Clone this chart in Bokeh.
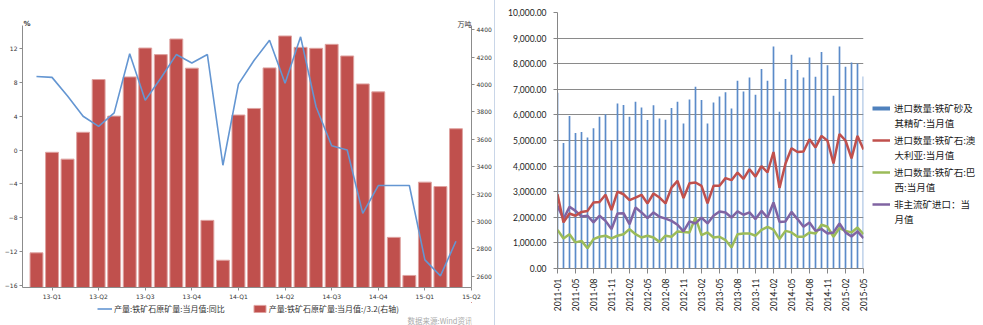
import numpy as np
from bokeh.plotting import figure
from bokeh.models import (Range1d, LinearAxis, FixedTicker, Legend, LegendItem,
                          Label, NumeralTickFormatter, Div)
from bokeh.layouts import row, column
from bokeh.embed import file_html
from bokeh.resources import INLINE

# ---------------- Left chart data ----------------
left_month_index = list(range(1, 29))          # 2013-02 ... 2015-05
left_quarter_ticks = [2, 5, 8, 11, 14, 17, 20, 23, 26, 29]
left_quarter_labels = ["13-Q1", "13-Q2", "13-Q3", "13-Q4", "14-Q1",
                       "14-Q2", "14-Q3", "14-Q4", "15-Q1", "15-Q2"]
ore_output_yoy = [8.7, 8.6, 6.4, 4.0, 2.8, 4.4, 11.4, 5.9, 8.5, 11.3, 10.3, 11.3,
                  -1.8, 7.8, 10.6, 13.0, 7.9, 13.4, 5.1, 0.5, 0.0, -7.5, -4.2,
                  -4.2, -4.2, -13.0, -14.9, -10.8]
ore_output_scaled = [2771, 3505, 3455, 3651, 4036, 3769, 4055, 4266, 4218, 4332,
                     4119, 3008, 2717, 3777, 3825, 4121, 4354, 4271, 4264, 4293,
                     4208, 4004, 3946, 2884, 2606, 3287, 3255, 3677]
left_pct_ticks = [-16, -12, -8, -4, 0, 4, 8, 12]
right_ton_ticks = [2600, 2800, 3000, 3200, 3400, 3600, 3800, 4000, 4200, 4400]
LEFT_PCT_AXIS = (-16.27, 14.75)
RIGHT_TON_AXIS = (2518, 4431)
LEFT_PCT_VIEW = (-16.27, 17.70)
RIGHT_TON_VIEW = (2518, 4613)

# ---------------- Right chart data ----------------
import_index = list(range(52))
import_tick_pos = list(range(0, 52, 3))
import_tick_labels = ["2011-01", "2011-05", "2011-08", "2011-11", "2012-02", "2012-05",
                      "2012-08", "2012-11", "2013-02", "2013-05", "2013-08", "2013-11",
                      "2014-02", "2014-05", "2014-08", "2014-11", "2015-02", "2015-05"]
import_total = [6870, 4900, 5960, 5290, 5330, 5120, 5480, 5930, 6030, 5000, 6450, 6390,
                5930, 6510, 6290, 5800, 6380, 5860, 5810, 6270, 6510, 5660, 6600, 7100,
                6580, 5660, 6480, 6720, 6880, 6250, 7330, 6910, 7460, 6790, 7790, 7330,
                8670, 6120, 7400, 8350, 7750, 7460, 8240, 7490, 8460, 7940, 6750, 8670,
                7880, 8050, 8010, 7500]
import_australia = [2900, 1800, 2150, 2060, 2210, 2250, 2580, 2600, 2880, 2280, 3000, 2900,
                    2670, 2770, 2880, 2540, 2930, 2770, 2540, 3160, 3420, 2750, 3330, 3360,
                    3230, 2550, 3230, 3230, 3530, 3450, 3750, 3500, 3880, 3590, 4000, 3750,
                    4550, 3150, 4100, 4700, 4550, 4570, 5050, 4730, 5180, 4990, 4100, 5250,
                    5000, 4300, 5180, 4650]
import_brazil = [1510, 1170, 1340, 1020, 1080, 790, 1150, 1240, 1280, 1180, 1280, 1340,
                 1540, 1340, 1210, 1280, 1210, 1040, 1280, 1240, 1450, 1430, 1410, 1990,
                 1300, 1410, 1210, 1240, 1110, 820, 1340, 1370, 1370, 1280, 1510, 1630,
                 1520, 1150, 1470, 1410, 1240, 1240, 1410, 1370, 1710, 1630, 1240, 1580,
                 1470, 1410, 1600, 1340]
import_other = [2450, 1930, 2410, 2250, 2030, 2060, 1800, 2060, 1860, 1540, 2150, 2160,
                1730, 2380, 2190, 1970, 2190, 2020, 1950, 1860, 1710, 1450, 1840, 1760,
                1990, 1760, 2060, 2230, 2190, 1990, 2230, 2100, 2190, 1930, 2250, 1990,
                2580, 1820, 1840, 2210, 1930, 1630, 1800, 1470, 1540, 1370, 1410, 1760,
                1410, 1250, 1450, 1180]
import_y_ticks = list(range(0, 10001, 1000))
legend_first_lines = ["进口数量:铁矿砂及", "进口数量:铁矿石:澳", "进口数量:铁矿石:巴",
                      "非主流矿进口：当"]
legend_second_lines = ["其精矿:当月值", "大利亚:当月值", "西:当月值", "月值"]

CJK = "Noto Sans CJK SC"
RED = "#C0504D"
BAR_EDGE = "#DFA3A1"
BLUE_LINE = "#6496D2"
GREEN = "#9BBB59"
PURPLE = "#8064A2"
BAR_BLUE = "#4F81BD"
OFFSCREEN = (-100, -99)   # view range for legend-only figures (nothing drawn in view)

# ================= Left figure (plot area) =================
p1 = figure(width=494, height=302, output_backend="svg", toolbar_location=None,
            title=None, x_range=Range1d(0.1, 29), y_range=Range1d(*LEFT_PCT_VIEW),
            min_border_left=22, min_border_right=22, min_border_top=0,
            min_border_bottom=14)
p1.extra_y_ranges = {"ton": Range1d(*RIGHT_TON_VIEW)}
p1.grid.visible = False
p1.outline_line_color = None

p1.vbar(x=left_month_index, top=ore_output_scaled, bottom=RIGHT_TON_AXIS[0],
        width=0.83, y_range_name="ton", fill_color=RED, line_color=BAR_EDGE, line_width=1)
p1.line(x=left_month_index, y=ore_output_yoy, line_color=BLUE_LINE, line_width=1.6)

def style_small_axis(ax):
    ax.axis_line_color = "#8C8C8C"
    ax.major_tick_line_color = "#8C8C8C"
    ax.major_tick_out = 3
    ax.major_tick_in = 0
    ax.minor_tick_line_color = None
    ax.major_label_text_font = "DejaVu Sans"
    ax.major_label_text_font_size = "6px"
    ax.major_label_text_color = "#333333"
    ax.major_label_standoff = 2

xax1 = p1.xaxis[0]
xax1.ticker = FixedTicker(ticks=left_quarter_ticks)
xax1.major_label_overrides = {t: l for t, l in zip(left_quarter_ticks, left_quarter_labels)}
style_small_axis(xax1)
yax1 = p1.yaxis[0]
yax1.ticker = FixedTicker(ticks=left_pct_ticks)
yax1.bounds = LEFT_PCT_AXIS
style_small_axis(yax1)
rax1 = LinearAxis(y_range_name="ton", ticker=FixedTicker(ticks=right_ton_ticks),
                  bounds=RIGHT_TON_AXIS)
style_small_axis(rax1)
p1.add_layout(rax1, "right")

p1.add_layout(Label(x=1, y=264, x_units="screen", y_units="screen", text="%",
                    text_font="DejaVu Sans", text_font_size="7px", text_font_style="bold",
                    text_color="#333333", text_baseline="middle"))
p1.add_layout(Label(x=449, y=264, x_units="screen", y_units="screen", text="万吨",
                    text_font=CJK, text_font_size="7px", text_color="#333333",
                    text_align="right", text_baseline="middle"))

# ================= Left legend strip (frame aligned with p1's frame: x 22..472) ===
p1b = figure(width=494, height=23, output_backend="svg", toolbar_location=None,
             title=None, x_axis_type=None, y_axis_type=None,
             x_range=Range1d(*OFFSCREEN), y_range=Range1d(*OFFSCREEN),
             min_border=0, outline_line_color=None)
key_line1 = p1b.line(x=left_month_index, y=ore_output_yoy, line_color=BLUE_LINE,
                     line_width=1.6)
key_bar1 = p1b.vbar(x=left_month_index, top=ore_output_scaled, width=0.83,
                    fill_color=RED, line_color=BAR_EDGE, line_width=1)
leg1 = Legend(items=[LegendItem(label="产量:铁矿石原矿量:当月值:同比", renderers=[key_line1]),
                     LegendItem(label="产量:铁矿石原矿量:当月值:/3.2(右轴)", renderers=[key_bar1])],
              orientation="horizontal", location=(75, 11), padding=0, margin=0,
              spacing=27, glyph_width=15, glyph_height=9, label_standoff=2,
              label_height=10, label_text_font=CJK, label_text_font_size="8px",
              label_text_color="#333333", border_line_color=None,
              background_fill_alpha=0)
p1b.add_layout(leg1)
p1b.add_layout(Label(x=450, y=5, x_units="screen", y_units="screen",
                     text="数据来源:Wind资讯", text_font=CJK, text_font_size="7.5px",
                     text_color="#AAAAAA", text_align="right", text_baseline="middle"))

# separator (left border of the right chart area)
sep = Div(width=1, height=325, margin=0, styles={"background-color": "#C9D6E8"})

# ================= Right figure =================
p2 = figure(width=373, height=325, output_backend="svg", toolbar_location=None,
            title=None, x_range=Range1d(0, 51), y_range=Range1d(0, 10000),
            min_border_left=62, min_border_right=5, min_border_top=12,
            min_border_bottom=57)
p2.outline_line_color = None
p2.xgrid.visible = False
p2.ygrid.grid_line_color = "#8A8A8A"
p2.ygrid.ticker = FixedTicker(ticks=import_y_ticks)

p2.vbar(x=import_index, top=import_total, width=0.28, fill_color="#5B8BC9",
        line_color=None)
p2.line(x=import_index, y=import_brazil, line_color=GREEN, line_width=2.5)
p2.line(x=import_index, y=import_other, line_color=PURPLE, line_width=2.5)
p2.line(x=import_index, y=import_australia, line_color=RED, line_width=2.5)

yax2 = p2.yaxis[0]
yax2.ticker = FixedTicker(ticks=import_y_ticks)
yax2.formatter = NumeralTickFormatter(format="0,0.00")
xax2 = p2.xaxis[0]
xax2.ticker = FixedTicker(ticks=import_tick_pos)
xax2.major_label_overrides = {t: l for t, l in zip(import_tick_pos, import_tick_labels)}
xax2.major_label_orientation = np.pi / 2
for ax in (xax2, yax2):
    ax.axis_line_color = "#868686"
    ax.major_tick_line_color = "#868686"
    ax.major_tick_in = 0
    ax.minor_tick_line_color = None
    ax.major_label_text_font = "Lato"
    ax.major_label_text_font_size = "8.5px"
    ax.major_label_text_color = "#222222"
yax2.major_tick_out = 4
yax2.major_label_standoff = 7
xax2.major_tick_out = 5
xax2.major_label_standoff = 5

# ================= Right legend (frame aligned with p2's frame: y 12..268) =====
p3 = figure(width=115, height=325, output_backend="svg", toolbar_location=None,
            title=None, x_axis_type=None, y_axis_type=None,
            x_range=Range1d(*OFFSCREEN), y_range=Range1d(*OFFSCREEN),
            min_border=0, outline_line_color=None)
k_bar = p3.line(x=import_index, y=import_total, line_color=BAR_BLUE, line_width=4)
k_au = p3.line(x=import_index, y=import_australia, line_color=RED, line_width=2.5)
k_br = p3.line(x=import_index, y=import_brazil, line_color=GREEN, line_width=2.5)
k_ot = p3.line(x=import_index, y=import_other, line_color=PURPLE, line_width=2.5)
leg2 = Legend(items=[LegendItem(label=t, renderers=[r]) for t, r in
                     zip(legend_first_lines, [k_bar, k_au, k_br, k_ot])],
              location=(4, 57), padding=0, margin=0, spacing=18,
              glyph_width=18, glyph_height=14, label_standoff=4, label_height=14,
              label_text_font=CJK, label_text_font_size="9.5px",
              label_text_color="#1A1A1A",
              border_line_color=None, background_fill_alpha=0)
p3.add_layout(leg2)
for i, t in enumerate(legend_second_lines):
    p3.add_layout(Label(x=26, y=146 - 32 * i, x_units="screen", y_units="screen",
                        text=t, text_font=CJK, text_font_size="9.5px",
                        text_color="#1A1A1A", text_baseline="middle"))

layout = row(column(p1, p1b, spacing=0), sep, p2, p3, spacing=0)
open("out.html", "w").write(file_html(layout, INLINE))
